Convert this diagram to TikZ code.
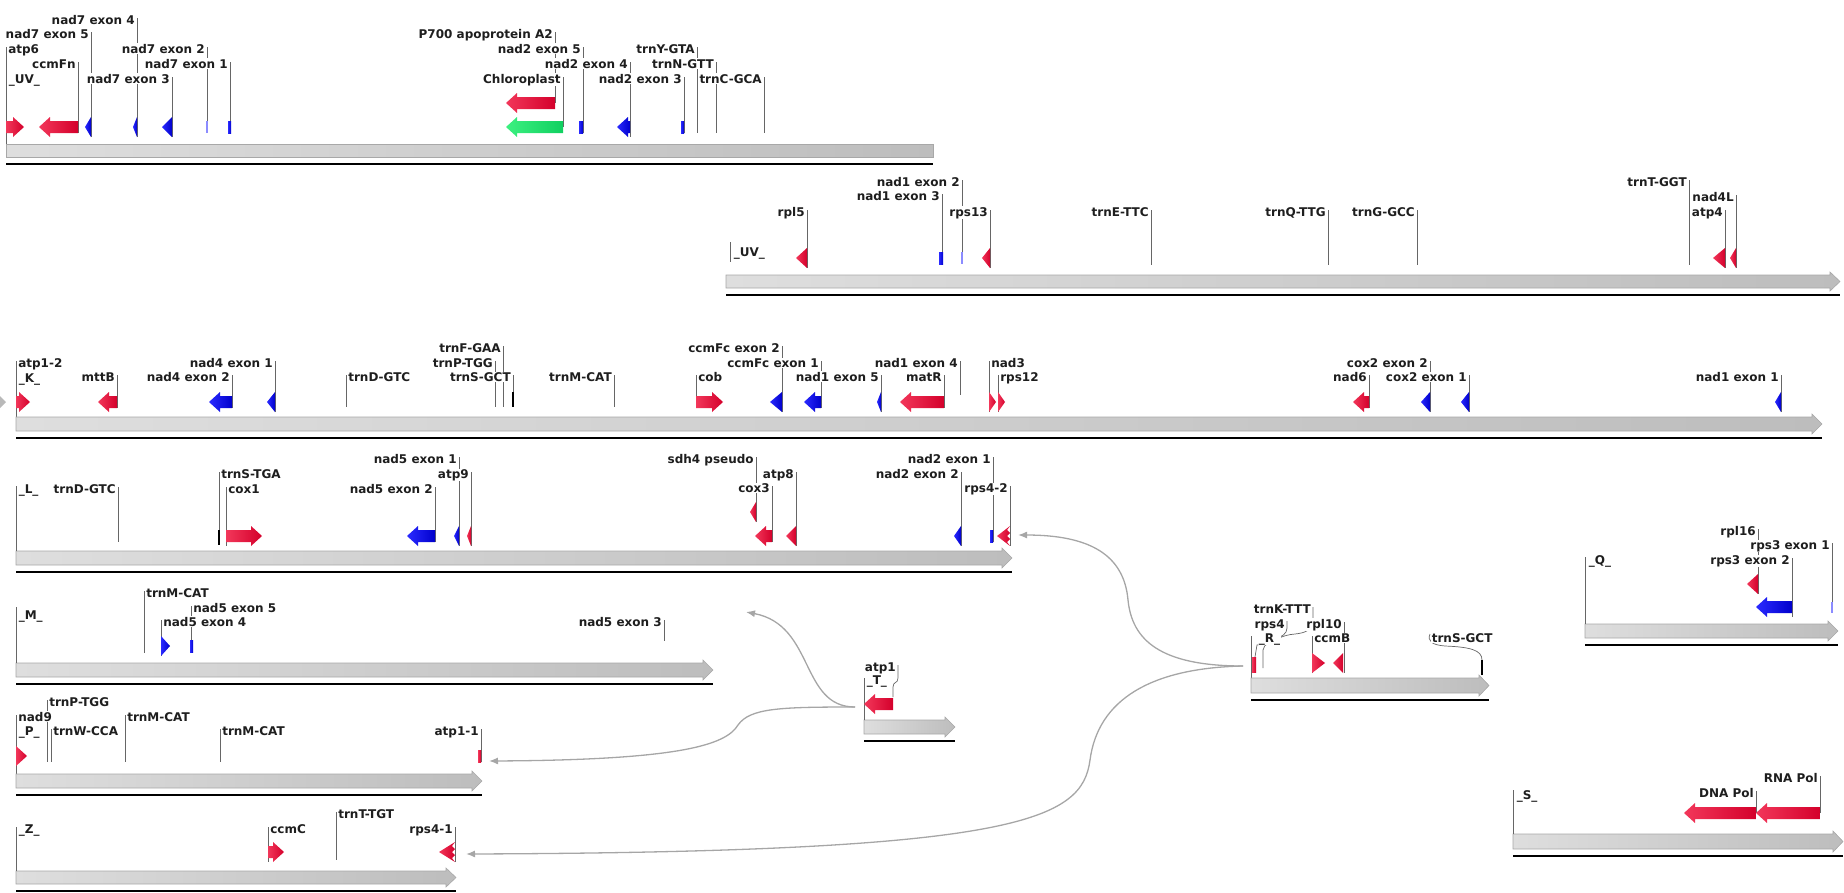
\documentclass[tikz,border=0pt]{standalone}
\usepackage{fontspec}
\setmainfont{DejaVu Sans}
\usetikzlibrary{arrows.meta}
\pgfdeclarelayer{bg}
\pgfsetlayers{bg,main}
\definecolor{redL}{HTML}{F2375A}
\definecolor{redD}{HTML}{D4002B}
\definecolor{bluL}{HTML}{2A2AFF}
\definecolor{bluD}{HTML}{0000CC}
\definecolor{grnL}{HTML}{3CF080}
\definecolor{grnD}{HTML}{10D060}
\definecolor{ltb}{HTML}{8C8CFF}
\definecolor{barL}{HTML}{DEDEDE}
\definecolor{barD}{HTML}{BDBDBD}
\definecolor{barE}{HTML}{A8A8A8}
\definecolor{txt}{HTML}{1E1E1E}
\tikzset{
  lbl/.style={font=\fontsize{12}{14}\selectfont\bfseries, text=txt, fill=white, inner sep=0.6pt},
  lead/.style={draw=black!60, line width=0.7pt},
  fred/.style={left color=redL, right color=redD},
  fblu/.style={left color=bluL, right color=bluD},
  fgrn/.style={left color=grnL, right color=grnD},
  fltb/.style={fill=ltb},
  barst/.style={left color=barL, right color=barD, draw=barE, line width=0.6pt},
  ul/.style={draw=black, line width=2pt},
  conn/.style={draw=gray!70, line width=1.3pt, -{Latex[length=9pt,width=7pt]}},
  thick tick/.style={draw=black, line width=2pt}
}
% labels
\newcommand\labl[5]{\begin{pgfonlayer}{bg}\draw[lead] ({#2},{#3-2}) -- ({#2},{#4});\end{pgfonlayer}\node[lbl,anchor=base east] (#1) at ({#2-1.5},{#3+4}) {#5};}
\newcommand\labr[5]{\begin{pgfonlayer}{bg}\draw[lead] ({#2},{#3-2}) -- ({#2},{#4});\end{pgfonlayer}\node[lbl,anchor=base west] (#1) at ({#2+1.5},{#3+4}) {#5};}
\newcommand\trkname[4]{\node[lbl,anchor=base west] (#1) at ({#2},{#3+4}) {#4};}
% features
\newcommand\fAL[4]{\path[#1] ({#2},{#4}) -- ({#2+11},{#4-10}) -- ({#2+11},{#4-6}) -- ({#3},{#4-6}) -- ({#3},{#4+6}) -- ({#2+11},{#4+6}) -- ({#2+11},{#4+10}) -- cycle;}
\newcommand\fAR[4]{\path[#1] ({#3},{#4}) -- ({#3-11},{#4-10}) -- ({#3-11},{#4-6}) -- ({#2},{#4-6}) -- ({#2},{#4+6}) -- ({#3-11},{#4+6}) -- ({#3-11},{#4+10}) -- cycle;}
\newcommand\fTL[4]{\path[#1] ({#2},{#4}) -- ({#3},{#4-10}) -- ({#3},{#4+10}) -- cycle;}
\newcommand\fTR[4]{\path[#1] ({#3},{#4}) -- ({#2},{#4-10}) -- ({#2},{#4+10}) -- cycle;}
\newcommand\fRB[4]{\path[#1] ({#2},{#4-6}) rectangle ({#3},{#4+6});}
\newcommand\fJL[4]{\path[#1] ({#2},{#4}) -- ({#3},{#4-10}) -- ({#3-3},{#4-6}) -- ({#3},{#4-3}) -- ({#3-3},{#4}) -- ({#3},{#4+3}) -- ({#3-3},{#4+6}) -- ({#3},{#4+10}) -- cycle;}
% track bar with tip
\newcommand\trk[4]{\path[barst] ({#1},{#3}) -- ({#2-10},{#3}) -- ({#2-10},{#3-3}) -- ({#2},{(#3+#4)/2}) -- ({#2-10},{#4+3}) -- ({#2-10},{#4}) -- ({#1},{#4}) -- cycle;
  \draw[ul] ({#1},{#4+7}) -- ({#2},{#4+7});}
\begin{document}
\begin{tikzpicture}[x=1pt,y=-1pt]
\useasboundingbox (0,0) rectangle (1844,892);

% ================= Track 1 (UV)
\path[barst] (6,144) rectangle (933,157);
\draw[ul] (6,164) -- (933,164);
\labr{t1a}{6}{49}{144}{atp6}
\trkname{t1n}{8}{79}{\_UV\_}
\labl{t1b}{91}{34}{137}{nad7 exon 5}
\labl{t1c}{78}{64}{133}{ccmFn}
\labl{t1d}{137}{20}{137}{nad7 exon 4}
\labl{t1e}{172}{79}{137}{nad7 exon 3}
\labl{t1f}{207}{49}{133}{nad7 exon 2}
\labl{t1g}{230}{64}{133}{nad7 exon 1}
\labl{t1h}{555}{34}{103}{P700 apoprotein A2}
\labl{t1i}{563}{79}{127}{Chloroplast}
\labl{t1j}{583}{49}{133}{nad2 exon 5}
\labl{t1k}{630}{64}{137}{nad2 exon 4}
\labl{t1l}{684}{79}{133}{nad2 exon 3}
\labl{t1m}{697}{49}{133}{trnY-GTA}
\labl{t1o}{716}{64}{133}{trnN-GTT}
\labl{t1p}{764}{79}{133}{trnC-GCA}
\fAR{fred}{6}{24}{127}
\fAL{fred}{39}{78}{127}
\fTL{fblu}{85}{91}{127}
\fTL{fblu}{133}{137}{127}
\fTL{fblu}{162}{172}{127}
\fRB{fltb}{206}{208}{127}
\fRB{fblu}{228}{231}{127}
\fAL{fred}{506}{555}{103}
\fAL{fgrn}{506}{563}{127}
\fRB{fblu}{579}{583}{127}
\fAL{fblu}{617}{630}{127}
\fRB{fblu}{681}{684}{127}

% ================= Track 2 (UV)
\trk{726}{1840}{275}{288}
\draw[lead] (730,242) -- (730,262);
\trkname{t2n}{733}{252}{\_UV\_}
\labl{t2a}{807}{212}{268}{rpl5}
\labl{t2b}{942}{196}{264}{nad1 exon 3}
\labl{t2c}{962}{182}{264}{nad1 exon 2}
\labl{t2d}{990}{212}{268}{rps13}
\labl{t2e}{1151}{212}{265}{trnE-TTC}
\labl{t2f}{1328}{212}{265}{trnQ-TTG}
\labl{t2g}{1417}{212}{265}{trnG-GCC}
\labl{t2h}{1689}{182}{265}{trnT-GGT}
\labl{t2i}{1736}{197}{268}{nad4L}
\labl{t2j}{1725}{212}{268}{atp4}
\fTL{fred}{796}{807}{258}
\fRB{fblu}{939}{943}{258}
\fRB{fltb}{961.3}{962.8}{258}
\fTL{fred}{982}{990}{258}
\fTL{fred}{1713}{1725}{258}
\fTL{fred}{1730}{1736}{258}

% ================= Track 3 (K)
\trk{16}{1822}{417}{431}
\path[fill=gray!55] (0,396) -- (6,402) -- (0,408) -- cycle;
\labr{t3a}{16}{363}{417}{atp1-2}
\trkname{t3n}{18}{378}{\_K\_}
\labl{t3b}{117}{377}{408}{mttB}
\labl{t3c}{232}{377}{408}{nad4 exon 2}
\labl{t3d}{275}{363}{412}{nad4 exon 1}
\labr{t3e}{346}{377}{407}{trnD-GTC}
\labl{t3f}{503}{348}{407}{trnF-GAA}
\labl{t3g}{495}{363}{407}{trnP-TGG}
\labl{t3h}{513}{377}{407}{trnS-GCT}
\draw[thick tick] (513,392) -- (513,407);
\labl{t3i}{614}{377}{407}{trnM-CAT}
\labr{t3j}{696}{377}{408}{cob}
\labl{t3k}{782}{348}{412}{ccmFc exon 2}
\labl{t3l}{821}{363}{408}{ccmFc exon 1}
\labl{t3m}{881}{377}{412}{nad1 exon 5}
\labl{t3o}{960}{363}{395}{nad1 exon 4}
\labl{t3p}{944}{377}{408}{matR}
\labr{t3q}{989}{363}{412}{nad3}
\labr{t3r}{998}{377}{412}{rps12}
\labl{t3s}{1369}{377}{408}{nad6}
\labl{t3t}{1430}{363}{412}{cox2 exon 2}
\labl{t3u}{1469}{377}{412}{cox2 exon 1}
\labl{t3v}{1781}{377}{412}{nad1 exon 1}
\fAR{fred}{16}{30}{402}
\fAL{fred}{98}{117}{402}
\fAL{fblu}{209}{232}{402}
\fTL{fblu}{267}{275}{402}
\fAR{fred}{696}{723}{402}
\fTL{fblu}{770}{782}{402}
\fAL{fblu}{804}{821}{402}
\fTL{fblu}{877}{881}{402}
\fAL{fred}{900}{944}{402}
\fTR{fred}{989}{996}{402}
\fTR{fred}{998}{1005}{402}
\fAL{fred}{1353}{1369}{402}
\fTL{fblu}{1421}{1430}{402}
\fTL{fblu}{1461}{1469}{402}
\fTL{fblu}{1775}{1781}{402}

% ================= Track 4 (L)
\trk{16}{1012}{551}{565}
\draw[lead] (16,486) -- (16,551);
\trkname{t4n}{18}{489}{\_L\_}
\labl{t4a}{118}{489}{542}{trnD-GTC}
\labr{t4b}{219}{474}{545}{trnS-TGA}
\draw[thick tick] (219,530) -- (219,545);
\labr{t4c}{226}{489}{546}{cox1}
\labl{t4d}{435}{489}{542}{nad5 exon 2}
\labl{t4e}{459}{459}{546}{nad5 exon 1}
\labl{t4f}{471}{474}{546}{atp9}
\labl{t4g}{756}{459}{522}{sdh4 pseudo}
\labl{t4h}{772}{488}{542}{cox3}
\labl{t4i}{796}{474}{546}{atp8}
\labl{t4j}{961}{474}{546}{nad2 exon 2}
\labl{t4k}{993}{459}{542}{nad2 exon 1}
\labl{t4l}{1010}{488}{546}{rps4-2}
\fAR{fred}{226}{262}{536}
\fAL{fblu}{407}{435}{536}
\fTL{fblu}{454}{459}{536}
\fTL{fred}{467}{471}{536}
\fTL{fred}{750}{756}{512}
\fAL{fred}{755}{772}{536}
\fTL{fred}{786}{796}{536}
\fTL{fblu}{954}{961}{536}
\fRB{fblu}{990}{993}{536}
\fJL{fred}{997}{1010}{536}

% ================= Track 5 (M)
\trk{16}{713}{663}{677}
\draw[lead] (16,607) -- (16,663);
\trkname{t5n}{18}{615}{\_M\_}
\labr{t5a}{144}{593}{653}{trnM-CAT}
\labr{t5b}{191}{608}{653}{nad5 exon 5}
\labr{t5c}{161}{622}{656}{nad5 exon 4}
\labl{t5d}{664}{622}{641}{nad5 exon 3}
\fTR{fblu}{161}{170}{646}
\fRB{fblu}{190}{193}{646}

% ================= Track 6 (P)
\trk{16}{482}{774}{788}
\labr{t6a}{16}{717}{774}{nad9}
\trkname{t6n}{18}{731}{\_P\_}
\labr{t6b}{47}{702}{762}{trnP-TGG}
\labr{t6c}{51}{731}{762}{trnW-CCA}
\labr{t6d}{125}{717}{762}{trnM-CAT}
\labr{t6e}{220}{731}{762}{trnM-CAT}
\labl{t6f}{481}{731}{762}{atp1-1}
\fTR{fred}{16}{27}{756}
\path[fred] (478,750) rectangle (481,762);

% ================= Track 7 (Z)
\trk{16}{456}{871}{884}
\draw[lead] (16,827) -- (16,871);
\trkname{t7n}{18}{829}{\_Z\_}
\labr{t7a}{268}{829}{862}{ccmC}
\labr{t7b}{336}{814}{860}{trnT-TGT}
\labl{t7c}{455}{829}{862}{rps4-1}
\fAR{fred}{268}{284}{852}
\fJL{fred}{439}{455}{852}

% ================= Track T
\trk{864}{955}{720}{734}
\draw[lead] (864,678) -- (864,720);
\trkname{tTn}{866}{680}{\_T\_}
\begin{pgfonlayer}{bg}
\draw[lead] (898,665) -- (898,678) .. controls (898,684) and (893,681) .. (893,687) -- (893,697);
\end{pgfonlayer}
\node[lbl,anchor=base east] (tTa) at (896.5,671) {atp1};
\fAL{fred}{864}{893}{704}

% ================= Track R
\trk{1251}{1489}{678}{693}
\begin{pgfonlayer}{bg}
\draw[lead] (1251,636) -- (1251,678);
\draw[lead] (1313,607) -- (1313,620) .. controls (1313,630) and (1305,633) .. (1295,634) .. controls (1282,635) and (1276,640) .. (1268,643) -- (1257,645) -- (1255,657);
\draw[lead] (1287,621) -- (1287,628) .. controls (1287,640) and (1265,638) .. (1263,650) -- (1263,668);
\draw[lead] (1430,634) .. controls (1427,641) and (1432,645) .. (1445,646) .. controls (1470,647) and (1482,650) .. (1482,660) -- (1482,675);
\end{pgfonlayer}
\draw[thick tick] (1482,660) -- (1482,675);
\node[lbl,anchor=base east] (tRa) at (1311.5,613) {trnK-TTT};
\node[lbl,anchor=base east] (tRb) at (1285.5,628) {rps4};
\labl{tRc}{1344}{624}{673}{rpl10}
\trkname{tRn}{1258}{638}{\_R\_}
\labr{tRd}{1312}{638}{673}{ccmB}
\node[lbl,anchor=base west] (tRe) at (1431,642) {trnS-GCT};
\path[fred] (1252,657) rectangle (1256,672);
\fTR{fred}{1312}{1325}{663}
\fTL{fred}{1333}{1343}{663}

% ================= Track Q
\trk{1585}{1838}{624}{638}
\draw[lead] (1585,557) -- (1585,624);
\trkname{tQn}{1588}{560}{\_Q\_}
\labl{tQa}{1758}{531}{594}{rpl16}
\labl{tQb}{1832}{545}{613}{rps3 exon 1}
\labl{tQc}{1792}{560}{617}{rps3 exon 2}
\fTL{fred}{1747}{1758}{584}
\fAL{fblu}{1756}{1792}{607}
\path[fltb] (1831.3,602) rectangle (1832.8,613);

% ================= Track S
\trk{1513}{1843}{834}{849}
\draw[lead] (1513,790) -- (1513,834);
\trkname{tSn}{1516}{795}{\_S\_}
\labl{tSa}{1756}{793}{813}{DNA Pol}
\labl{tSb}{1820}{778}{813}{RNA Pol}
\fAL{fred}{1684}{1756}{813}
\fAL{fred}{1756}{1820}{813}

% ================= connectors
\coordinate (srcT) at (855,707);
\coordinate (tgtM) at (746,612);
\coordinate (tgtA) at (489,761);
\coordinate (srcR) at (1243,666);
\coordinate (tgtR2) at (1018,535);
\coordinate (tgtR1) at (466,854);
\draw[conn] (srcT) .. controls (800,707) and (815,625) .. (tgtM);
\draw[conn] (srcT) .. controls (780,707) and (750,708) .. (738,725) .. controls (726,745) and (680,760) .. (tgtA);
\draw[conn] (srcR) .. controls (1160,666) and (1132,640) .. (1128,600) .. controls (1124,555) and (1090,535) .. (tgtR2);
\draw[conn] (srcR) .. controls (1150,668) and (1098,700) .. (1090,760) .. controls (1082,820) and (1020,852) .. (tgtR1);
\end{tikzpicture}
\end{document}
